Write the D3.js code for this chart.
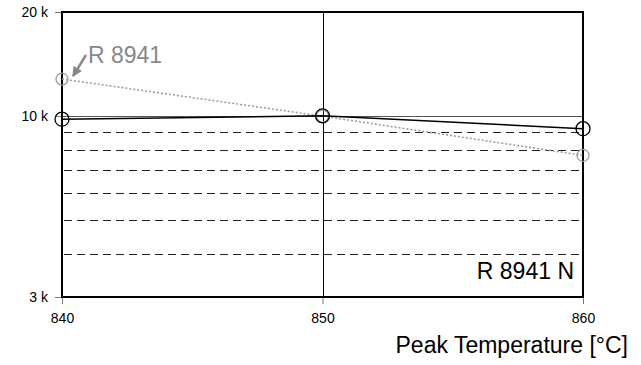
<!DOCTYPE html>
<html>
<head>
<meta charset="utf-8">
<script src="https://cdn.jsdelivr.net/npm/d3@7"></script>
<style>
  body { margin: 0; background: #fff; }
  svg { font-family: "Liberation Sans", Arial, sans-serif; }
</style>
</head>
<body>
<div id="chart"></div>
<script>
// peak temperature vs value, two grades
const temps = [840, 850, 860];
const seriesN = [9800, 10020, 9200];     // R 8941 N
const seriesR = [12800, 10000, 7700];    // R 8941
const yTicks = [3000, 10000, 20000];
const yTickLabels = ["3 k", "10 k", "20 k"];
const minorGrid = [4000, 5000, 6000, 7000, 8000, 9000];

var width = 641;
var height = 365;
var margin = { left: 62, right: 58, top: 12, bottom: 68 };

var svg = d3.select("#chart")
    .append("svg")
    .attr("width", width)
    .attr("height", height);

var x = d3.scaleLinear()
    .domain([840, 860])
    .range([margin.left, width - margin.right]);

var y = d3.scaleLog()
    .domain([3000, 20000])
    .range([height - margin.bottom, margin.top]);

// dashed minor grid
svg.append("g")
    .selectAll("line")
    .data(minorGrid)
    .enter()
    .append("line")
    .attr("x1", x(840) + 2)
    .attr("x2", x(860) - 2)
    .attr("y1", d => Math.round(y(d)) + 0.5)
    .attr("y2", d => Math.round(y(d)) + 0.5)
    .attr("stroke", "#222")
    .attr("stroke-width", 1)
    .attr("stroke-dasharray", "8,5");

// major grid at 10 k and 850
svg.append("line")
    .attr("x1", x(840)).attr("x2", x(860))
    .attr("y1", Math.round(y(10000)) + 0.5)
    .attr("y2", Math.round(y(10000)) + 0.5)
    .attr("stroke", "#555")
    .attr("stroke-width", 1);

svg.append("line")
    .attr("x1", Math.round(x(850)) + 0.5)
    .attr("x2", Math.round(x(850)) + 0.5)
    .attr("y1", y(20000)).attr("y2", y(3000))
    .attr("stroke", "#000")
    .attr("stroke-width", 1);

// axes
var yAxis = d3.axisLeft(y)
    .tickValues(yTicks)
    .tickFormat((d, i) => yTickLabels[i])
    .tickSize(7)
    .tickPadding(7);

var gy = svg.append("g")
    .attr("transform", "translate(" + x(840) + ",0)")
    .call(yAxis);

var xAxis = d3.axisBottom(x)
    .tickValues(temps)
    .tickFormat(d3.format("d"))
    .tickSize(7)
    .tickPadding(9);

var gx = svg.append("g")
    .attr("transform", "translate(0," + y(3000) + ")")
    .call(xAxis);

[gx, gy].forEach(g => {
    g.select(".domain").remove();
    g.selectAll(".tick line").attr("stroke", "#777");
    g.selectAll(".tick text")
        .attr("fill", "#000")
        .style("font-size", "14px")
        .style("font-family", "Liberation Sans, Arial, sans-serif");
});

// frame
svg.append("rect")
    .attr("x", x(840))
    .attr("y", y(20000))
    .attr("width", x(860) - x(840))
    .attr("height", y(3000) - y(20000))
    .attr("fill", "none")
    .attr("stroke", "#000")
    .attr("stroke-width", 2);

var line = d3.line()
    .x((d, i) => x(temps[i]))
    .y(d => y(d));

// R 8941 (grey, dotted)
svg.append("path")
    .datum(seriesR)
    .attr("d", line)
    .attr("fill", "none")
    .attr("stroke", "#999")
    .attr("stroke-width", 1.5)
    .attr("stroke-dasharray", "2,2");

svg.append("g")
    .selectAll("circle")
    .data(seriesR)
    .enter()
    .append("circle")
    .attr("cx", (d, i) => x(temps[i]))
    .attr("cy", d => y(d))
    .attr("r", 6)
    .attr("fill", "none")
    .attr("stroke", "#999")
    .attr("stroke-width", 1.2);

// R 8941 N (black, solid)
svg.append("path")
    .datum(seriesN)
    .attr("d", line)
    .attr("fill", "none")
    .attr("stroke", "#000")
    .attr("stroke-width", 1.5);

svg.append("g")
    .selectAll("circle")
    .data(seriesN)
    .enter()
    .append("circle")
    .attr("cx", (d, i) => x(temps[i]))
    .attr("cy", d => y(d))
    .attr("r", 7)
    .attr("fill", "none")
    .attr("stroke", "#000")
    .attr("stroke-width", 1.3);

// annotation for R 8941
svg.append("defs")
    .append("marker")
    .attr("id", "arrow")
    .attr("viewBox", "0 0 10 10")
    .attr("refX", 9)
    .attr("refY", 5)
    .attr("markerWidth", 4)
    .attr("markerHeight", 4)
    .attr("orient", "auto")
    .append("path")
    .attr("d", "M0,0 L10,5 L0,10 z")
    .attr("fill", "#888");

svg.append("line")
    .attr("x1", 86).attr("y1", 55)
    .attr("x2", x(840) + 11).attr("y2", y(seriesR[0]) - 3)
    .attr("stroke", "#888")
    .attr("stroke-width", 2.5)
    .attr("marker-end", "url(#arrow)");

svg.append("text")
    .attr("x", 88)
    .attr("y", 63)
    .attr("fill", "#888")
    .style("font-size", "23px")
    .text("R 8941");

svg.append("text")
    .attr("x", 574)
    .attr("y", 279)
    .attr("text-anchor", "end")
    .attr("fill", "#000")
    .style("font-size", "23px")
    .text("R 8941 N");

// x axis title
svg.append("text")
    .attr("x", 628)
    .attr("y", 353)
    .attr("text-anchor", "end")
    .attr("fill", "#000")
    .style("font-size", "23px")
    .text("Peak Temperature [°C]");
</script>
</body>
</html>
